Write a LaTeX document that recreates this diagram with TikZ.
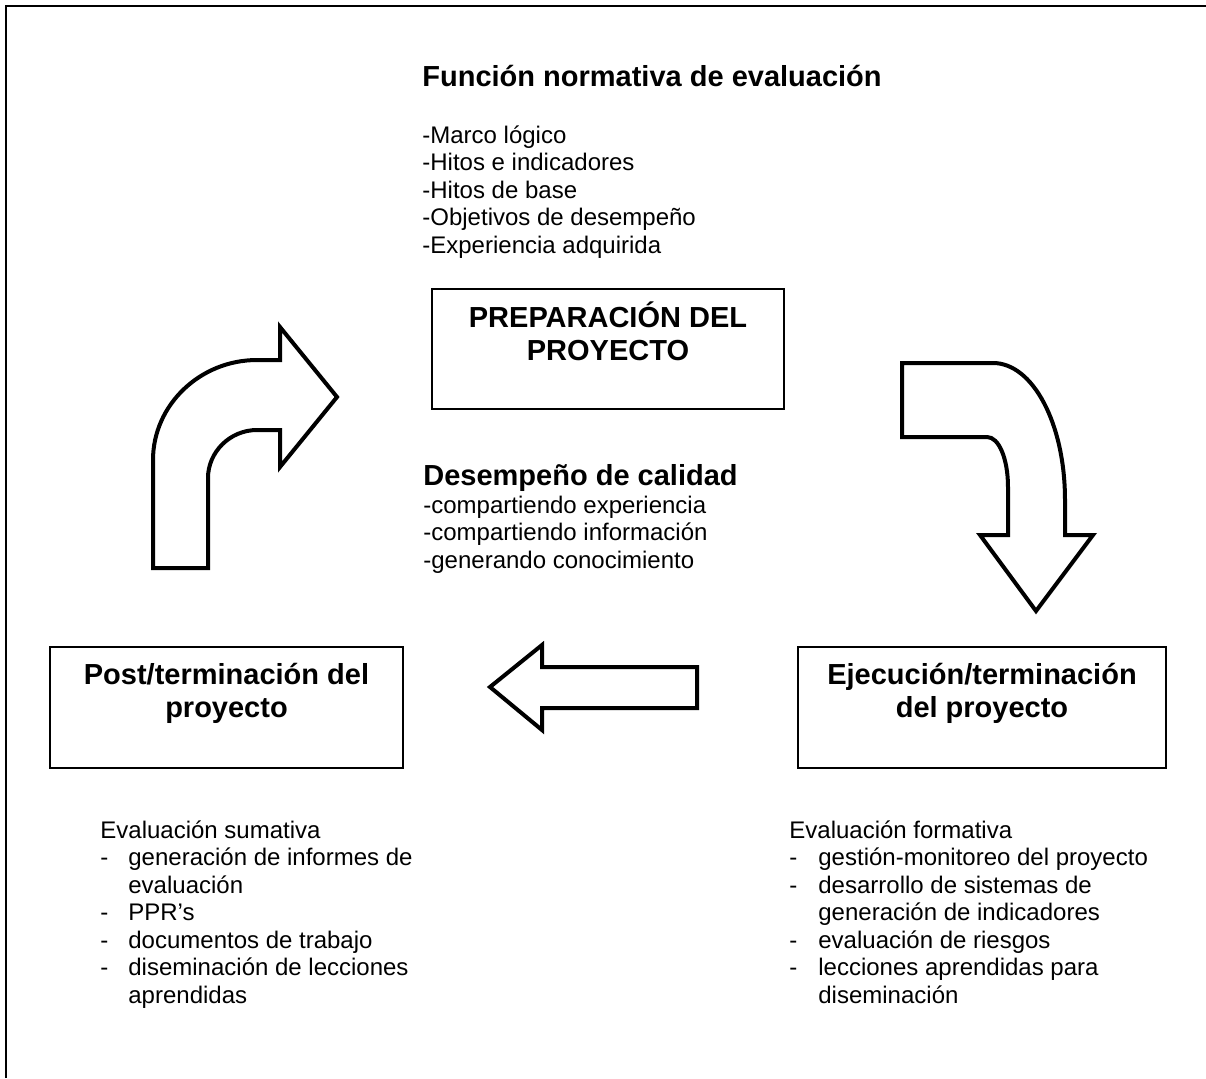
\documentclass[tikz,border=0pt]{standalone}
\usepackage{fontspec}
\setmainfont{Liberation Sans}
\tikzset{
  body/.style={font=\fontsize{12}{13.8}\selectfont, inner sep=0pt, anchor=base west},
  head/.style={font=\fontsize{14.5}{16.5}\selectfont\bfseries, inner sep=0pt, anchor=base},
  headw/.style={head, anchor=base west},
  stagebox/.style={draw, line width=1pt, inner sep=0pt, rectangle},
  bigarrow/.style={draw, line width=2pt, line join=miter, fill=white},
  frameline/.style={line width=1pt},
}
\begin{document}
\begin{tikzpicture}[x=0.5pt,y=-0.5pt]
\useasboundingbox (0,0) rectangle (1206,1078);
% frame (top and left only)
\coordinate (fbl) at (6,1078);
\coordinate (ftl) at (6,6);
\coordinate (ftr) at (1206,6);
\draw[frameline] (fbl) -- (ftl) -- (ftr);

% top heading and list
\node[headw] (title) at (422,86) {Función normativa de evaluación};
\foreach \t [count=\i from 0] in {-Marco lógico,-Hitos e indicadores,-Hitos de base,-Objetivos de desempeño,-Experiencia adquirida}
  \node[body] (norm\i) at (422,143+27.5*\i) {\t};

% boxes
\node[stagebox, minimum width=176pt, minimum height=60pt] (prep) at (608,349) {};
\node[head] (prepA) at (608,327) {PREPARACIÓN DEL};
\node[head] (prepB) at (608,360) {PROYECTO};

\node[stagebox, minimum width=176.5pt, minimum height=60.5pt] (post) at (226.5,707.5) {};
\node[head] (postA) at (226.5,684) {Post/terminación del};
\node[head] (postB) at (226.5,717) {proyecto};

\node[stagebox, minimum width=184pt, minimum height=60.5pt] (ejec) at (982,707.5) {};
\node[head] (ejecA) at (982,684) {Ejecución/terminación};
\node[head] (ejecB) at (982,717) {del proyecto};

% centre text
\node[headw] (calidad) at (423,485) {Desempeño de calidad};
\foreach \t [count=\i from 0] in {-compartiendo experiencia,-compartiendo información,-generando conocimiento}
  \node[body] (cal\i) at (423,513+27.5*\i) {\t};

% left list
\node[body] (sumT) at (100,838) {Evaluación sumativa};
\foreach \k in {1,3,4,5}
  \node[body] (sumD\k) at (100,838+27.5*\k) {-};
\node[body] (sum1) at (128,838+27.5*1) {generación de informes de};
\node[body] (sum2) at (128,838+27.5*2) {evaluación};
\node[body] (sum3) at (128,838+27.5*3) {PPR’s};
\node[body] (sum4) at (128,838+27.5*4) {documentos de trabajo};
\node[body] (sum5) at (128,838+27.5*5) {diseminación de lecciones};
\node[body] (sum6) at (128,838+27.5*6) {aprendidas};

% right list
\node[body] (forT) at (789,838) {Evaluación formativa};
\foreach \k in {1,2,4,5}
  \node[body] (forD\k) at (789,838+27.5*\k) {-};
\node[body] (for1) at (818,838+27.5*1) {gestión-monitoreo del proyecto};
\node[body] (for2) at (818,838+27.5*2) {desarrollo de sistemas de};
\node[body] (for3) at (818,838+27.5*3) {generación de indicadores};
\node[body] (for4) at (818,838+27.5*4) {evaluación de riesgos};
\node[body] (for5) at (818,838+27.5*5) {lecciones aprendidas para};
\node[body] (for6) at (818,838+27.5*6) {diseminación};

% block arrows
\draw[bigarrow] (153,568) -- (208,568) -- (208,478)
  .. controls (208,452) and (230,430) .. (257,430)
  -- (280,430) -- (280,467) -- (337,397) -- (280,327) -- (280,360) -- (257,360)
  .. controls (200,360) and (153,405) .. (153,460) -- cycle;

\draw[bigarrow] (902,363) -- (993,363)
  .. controls (1033,363) and (1065,424) .. (1065,500)
  -- (1065,535) -- (1093,535) -- (1036,611) -- (980,535) -- (1008,535) -- (1008,487)
  .. controls (1008,459) and (999,437) .. (987,437) -- (902,437) -- cycle;

\draw[bigarrow] (697,667) -- (542,667) -- (542,645) -- (490,687) -- (542,730)
  -- (542,708) -- (697,708) -- cycle;
\end{tikzpicture}
\end{document}
